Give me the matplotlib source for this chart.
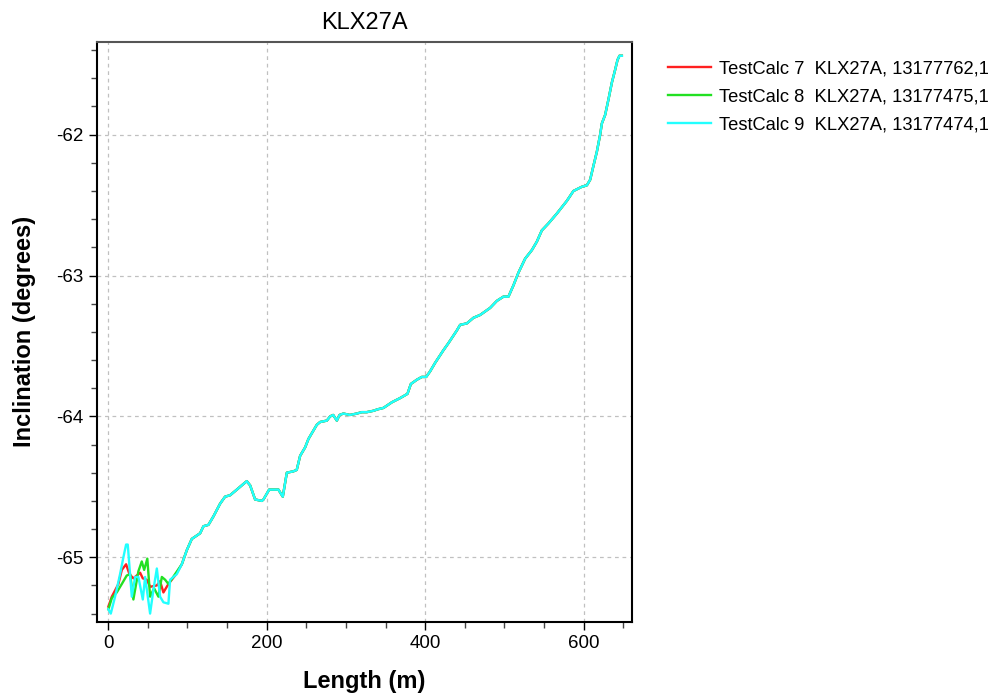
import matplotlib
matplotlib.use("Agg")
import matplotlib.pyplot as plt
import numpy as np
from matplotlib.ticker import MultipleLocator

plt.rcParams["font.family"] = ["Liberation Sans", "DejaVu Sans"]
plt.rcParams["axes.unicode_minus"] = False

TITLE = "KLX27A"
LABELS = ["TestCalc 7  KLX27A, 13177762,1",
          "TestCalc 8  KLX27A, 13177475,1",
          "TestCalc 9  KLX27A, 13177474,1"]
COLORS = ["#ff2020", "#22e022", "#22ffff"]

# noisy start of each run (length m, inclination deg)
RED_LEN = [0.4, 4.7, 13.0, 17.3, 22.7, 26.9, 31.9, 40.4, 43.8, 48.8, 53.0,
           61.5, 65.6, 69.8, 76.1, 84.5]
RED_INC = [-65.35, -65.28, -65.19, -65.09, -65.05, -65.12, -65.15, -65.11,
           -65.15, -65.16, -65.21, -65.20, -65.17, -65.25, -65.19, -65.13]

GREEN_LEN = [0.4, 4.7, 10.9, 17.3, 23.5, 27.8, 31.9, 38.2, 42.5, 45.5, 49.5,
             53.0, 58.0, 63.5, 67.8, 72.0, 76.1, 84.5]
GREEN_INC = [-65.37, -65.29, -65.25, -65.19, -65.13, -65.12, -65.30, -65.10,
             -65.03, -65.09, -65.01, -65.28, -65.22, -65.28, -65.14, -65.16,
             -65.19, -65.12]

CYAN_LEN = [0.4, 3.4, 8.8, 15.1, 19.3, 22.7, 24.8, 29.9, 34.1, 38.2, 43.8,
            46.7, 53.0, 57.2, 61.5, 65.6, 69.8, 76.1, 78.2, 86.7]
CYAN_INC = [-65.37, -65.40, -65.28, -65.12, -65.00, -64.91, -64.91, -65.28,
            -65.14, -65.14, -65.30, -65.14, -65.40, -65.23, -65.08, -65.28,
            -65.32, -65.33, -65.16, -65.12]

# the three runs agree closely from ~90 m on
TAIL_LEN = [93.0, 99.3, 105.6, 116.1, 120.3, 126.6, 132.9, 141.3, 147.6, 153.9,
            162.4, 170.7, 175.0, 179.2, 185.5, 194.0, 196.0, 203.2, 214.9,
            220.4, 225.5, 233.8, 238.0, 242.3, 248.6, 252.8, 257.0, 263.3,
            267.5, 276.0, 280.1, 284.0, 288.6, 292.0, 296.9, 305.0, 313.8,
            320.0, 326.4, 335.0, 340.0, 347.4, 358.0, 368.5, 377.7, 382.0,
            389.5, 395.8, 401.3, 406.3, 412.6, 423.1, 429.4, 440.0, 444.2,
            452.6, 461.0, 469.4, 482.0, 490.5, 498.8, 505.1, 511.4, 517.7,
            526.2, 534.6, 540.9, 547.2, 555.6, 566.2, 578.8, 587.1, 597.7,
            604.0, 608.2, 612.4, 616.7, 620.8, 623.0, 627.1, 631.3, 635.6,
            639.7, 642.7, 645.2, 648.2]
TAIL_INC = [-65.05, -64.95, -64.87, -64.83, -64.78, -64.77, -64.71, -64.62,
            -64.57, -64.56, -64.52, -64.48, -64.46, -64.49, -64.59, -64.60,
            -64.59, -64.52, -64.52, -64.57, -64.40, -64.39, -64.38, -64.28,
            -64.22, -64.16, -64.12, -64.06, -64.04, -64.03, -64.00, -63.99,
            -64.03, -63.99, -63.98, -63.99, -63.98, -63.97, -63.97, -63.96,
            -63.95, -63.94, -63.90, -63.87, -63.84, -63.77, -63.74, -63.72,
            -63.72, -63.68, -63.62, -63.53, -63.48, -63.39, -63.35, -63.34,
            -63.30, -63.28, -63.23, -63.18, -63.15, -63.15, -63.07, -62.98,
            -62.88, -62.82, -62.76, -62.68, -62.63, -62.56, -62.47, -62.40,
            -62.37, -62.36, -62.32, -62.22, -62.12, -62.00, -61.92, -61.86,
            -61.75, -61.63, -61.54, -61.47, -61.44, -61.44]

series = [(RED_LEN, RED_INC), (GREEN_LEN, GREEN_INC), (CYAN_LEN, CYAN_INC)]

fig = plt.figure(figsize=(10, 6.95), dpi=100)
ax = fig.add_axes([0.097, 0.105, 0.535, 0.835])

handles = []
for (ln, inc), col, lab in zip(series, COLORS, LABELS):
    x = np.concatenate([ln, TAIL_LEN])
    y = np.concatenate([inc, TAIL_INC])
    h, = ax.plot(x, y, color=col, lw=1.7, label=lab)
    handles.append(h)

ax.set_xlim(-14, 661)
ax.set_ylim(-65.46, -61.34)
ax.xaxis.set_major_locator(MultipleLocator(200))
ax.xaxis.set_minor_locator(MultipleLocator(50))
ax.yaxis.set_major_locator(MultipleLocator(1))
ax.yaxis.set_minor_locator(MultipleLocator(0.2))
ax.tick_params(which="major", direction="out", length=6, width=1, labelsize=13.5)
ax.tick_params(which="minor", direction="out", length=4, width=1, color="#444444")
ax.grid(True, which="major", ls=(0, (3, 3)), color="#c0c0c0", lw=0.9)

for s in ax.spines.values():
    s.set_linewidth(1.5)
ax.spines["top"].set_color("#555555")

ax.set_title(TITLE, fontsize=17, pad=9)
ax.set_xlabel("Length (m)", fontsize=17, fontweight="bold", labelpad=13)
ax.set_ylabel("Inclination (degrees)", fontsize=17, fontweight="bold", labelpad=15)

fig.legend(handles=handles, loc="upper left", bbox_to_anchor=(0.661, 0.923),
           frameon=False, fontsize=13.2, handlelength=2.3, handletextpad=0.45,
           labelspacing=0.58, borderaxespad=0.0)

fig.savefig("out.png", dpi=100)
